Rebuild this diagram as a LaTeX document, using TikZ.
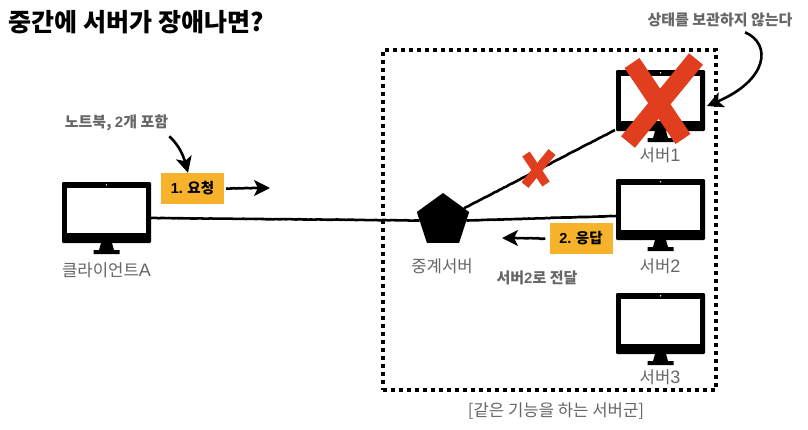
\documentclass[tikz,border=0pt]{standalone}
\usepackage{fontspec}
\setmainfont{Noto Sans CJK KR}
\newfontfamily\lat{Liberation Sans}
\usetikzlibrary{shapes.geometric,decorations.pathmorphing,arrows.meta,calc}
\definecolor{txt}{HTML}{666666}
\definecolor{amber}{HTML}{F5B22A}
\definecolor{redx}{HTML}{E03E1F}
\tikzset{
  monitor/.style={minimum width=89pt,minimum height=72pt,inner sep=0pt,outer sep=0pt},
  label/.style={text=txt,font=\fontsize{16.7}{16.7}\selectfont,inner sep=0pt},
  note/.style={text=txt,font=\fontsize{15}{15}\selectfont\bfseries,inner sep=0pt},
  tag/.style={fill=amber,minimum width=63pt,minimum height=31pt,inner sep=0pt,font=\fontsize{14.5}{14.5}\selectfont\bfseries},
  wire/.style={line width=2.6pt,decorate,decoration={random steps,segment length=2.5pt,amplitude=0.2pt}},
  flow/.style={line width=2.6pt,decorate,decoration={random steps,segment length=2.5pt,amplitude=0.3pt}},
  headtip/.style={-{Stealth[length=16pt,width=16pt,inset=4pt]},line width=2.6pt},
  crossA/.style={draw=redx,line cap=butt,line width=18pt},
  crossB/.style={draw=redx,line cap=butt,line width=9pt},
}
\newcommand{\monitorat}[3]{%
  \node[monitor] (#1) at (#2+44.5,#3+36) {};
  \begin{scope}[shift={(#2,#3)}]
    \fill[black,rounded corners=1.2pt] (0,0) rectangle (89,61);
    \fill[white] (5,6) rectangle (84,51);
    \fill[white] (44.5,2.8) circle (0.8pt);
    \fill[black] (39,61) -- (50,61) -- (52,68) -- (57.5,68) -- (57.5,72) -- (31.5,72) -- (31.5,68) -- (37,68) -- cycle;
  \end{scope}}
\begin{document}
\begin{tikzpicture}[x=1pt,y=-1pt]
\useasboundingbox (0,0) rectangle (808,429);
\fill[white] (0,0) rectangle (808,429);

\node[font=\fontsize{25}{25}\selectfont\bfseries,inner sep=0pt] (title) at (136,22) {중간에 서버가 장애나면?};

% group box
\node[draw,line width=4pt,dash pattern=on 4pt off 4pt,minimum width=333pt,minimum height=340pt,inner sep=0pt,outer sep=0pt] (group) at (549.5,220) {};
\node[label] (grouplabel) at (556,411) {[같은 기능을 하는 서버군]};

% monitors
\monitorat{client}{62}{182}
\monitorat{server1}{616}{70}
\monitorat{server2}{616}{179}
\monitorat{server3}{616}{293}

\node[label] (clientlabel) at (106.5,270) {클라이언트{\lat\fontsize{18}{18}\selectfont A}};
\node[label] (s1label) at (660,155) {서버{\lat\fontsize{18}{18}\selectfont 1}};
\node[label] (s2label) at (660,266) {서버{\lat\fontsize{18}{18}\selectfont 2}};
\node[label] (s3label) at (660,377) {서버{\lat\fontsize{18}{18}\selectfont 3}};

% relay
\node[regular polygon,regular polygon sides=5,fill=black,minimum size=55pt,inner sep=0pt,outer sep=0pt] (relay) at (443,220.5) {};
\node[label] (relaylabel) at (442,266) {중계서버};

% wires
\draw[wire] (client.east) -- (relay.180);
\draw[wire] (relay.0) -- ([yshift=-1pt]server2.west);
\coordinate (s1end) at (615,130);
\draw[wire] (relay.30) -- (s1end);

% tags
\node[tag] (req) at (192.5,188.5) {{\lat\bfseries 1.} 요청};
\node[tag] (res) at (581,238.5) {{\lat\bfseries 2.} 응답};
\coordinate (reqtip) at (270,188);
\coordinate (restip) at (502,238);
\draw[flow] ([xshift=2pt]req.east) -- ($(reqtip)+(-10,0)$);
\draw[headtip] ($(reqtip)+(-13,0)$) -- (reqtip);
\draw[flow] ([xshift=-4pt]res.west) -- ($(restip)+(10,0)$);
\draw[headtip] ($(restip)+(13,0)$) -- (restip);

% notes
\node[note] (notebook) at (116.5,123) {노트북, {\lat\bfseries 2}개 포함};
\node[note] (stateless) at (720,20) {상태를 보관하지 않는다};
\node[note] (forward) at (537,278) {서버{\lat\bfseries 2}로 전달};
\draw[headtip] ([xshift=1pt,yshift=-5pt]notebook.south east) .. controls (180,146) and (184,158) .. ([xshift=-4.5pt]req.north);
\draw[headtip] ([xshift=25pt,yshift=-5pt]stateless.south) .. controls (772,44) and (768,80) .. ([xshift=2pt]server1.east);

% crosses
\draw[crossA] (632,63) -- (683,139);
\draw[crossA] (696,59) -- (628,142);
\draw[crossB] (526,154) -- (546,184);
\draw[crossB] (552,152) -- (525,185);
\end{tikzpicture}
\end{document}
